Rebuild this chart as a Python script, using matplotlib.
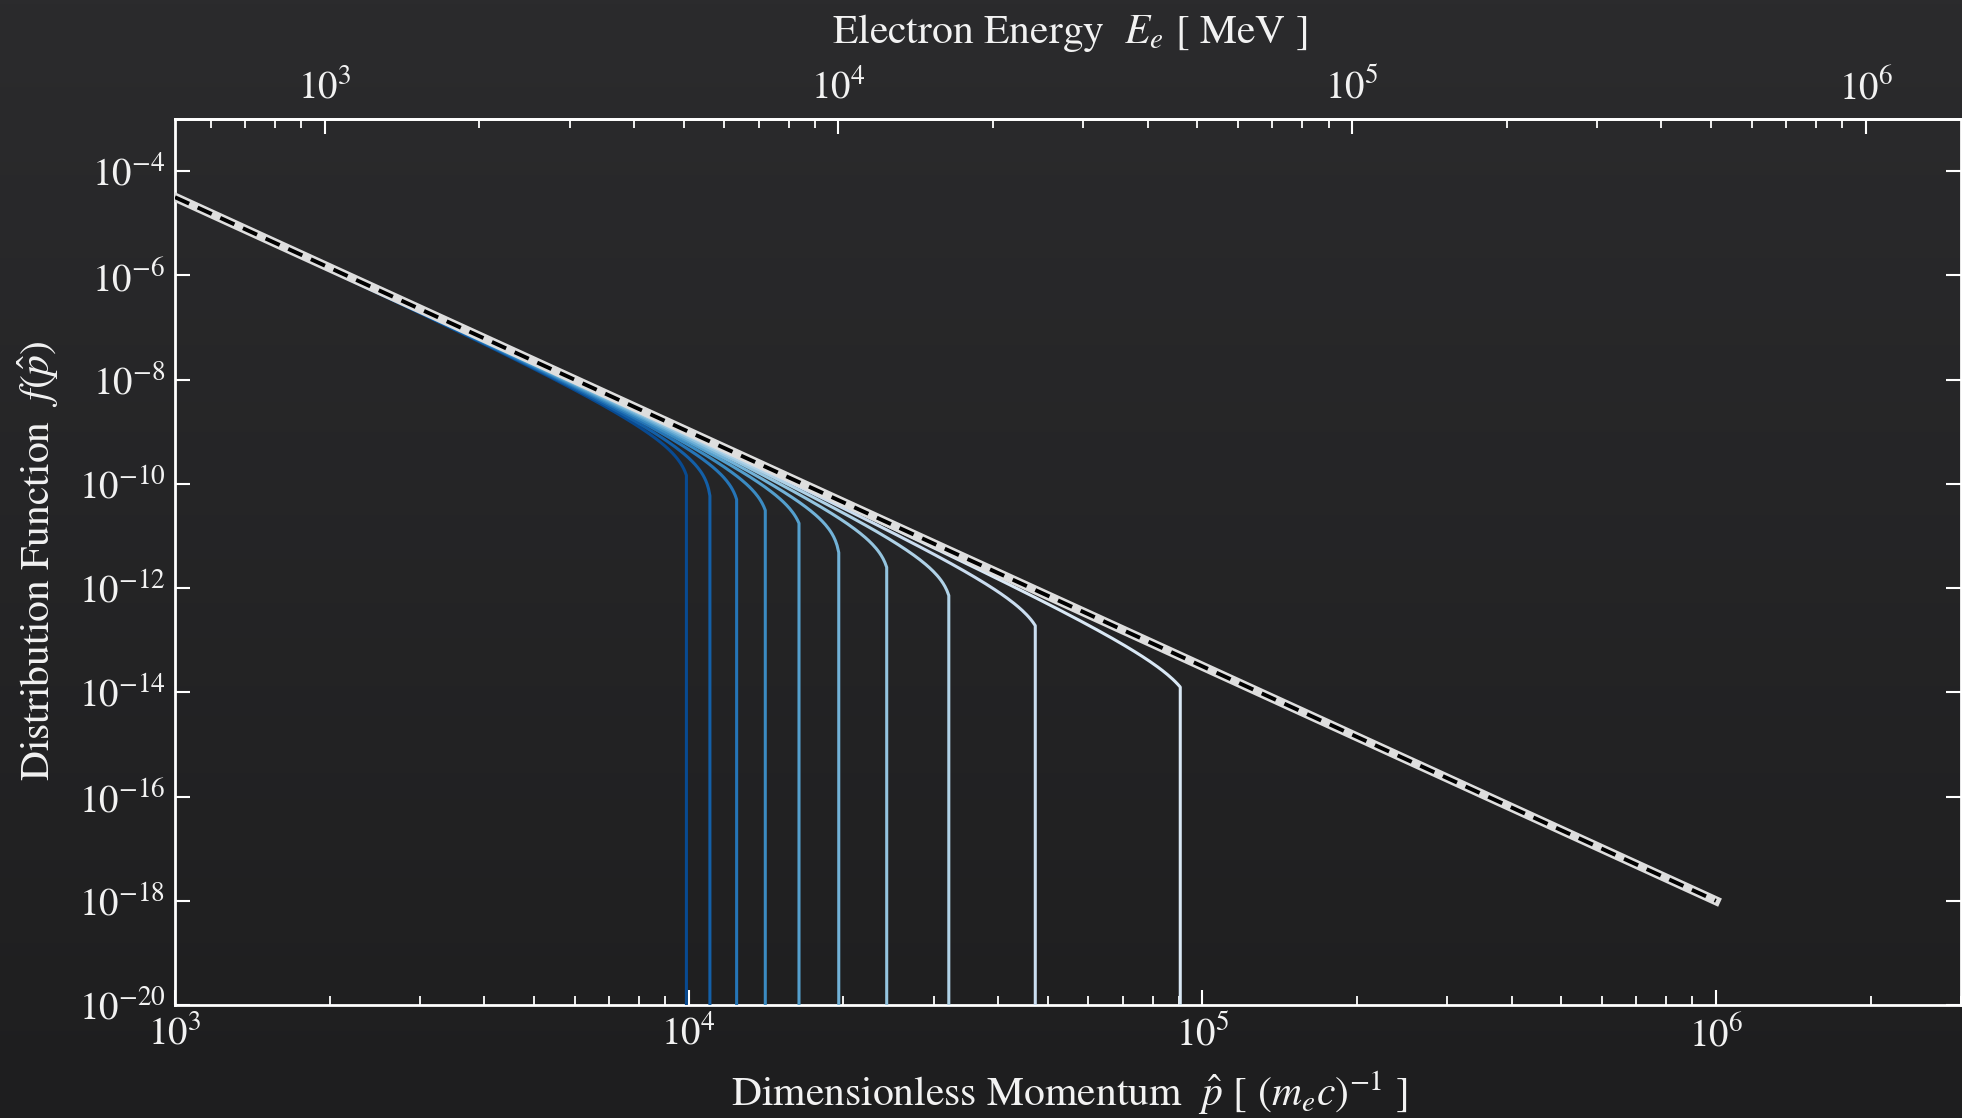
import numpy as np
import matplotlib
matplotlib.use("Agg")
import matplotlib.pyplot as plt
from matplotlib.colors import LinearSegmentedColormap
from matplotlib.ticker import NullLocator, FixedLocator, LogLocator, LogFormatterSciNotation

plt.rcParams['font.family'] = ['STIXGeneral', 'DejaVu Serif']
plt.rcParams['mathtext.fontset'] = 'stix'

# reference power law (dashed), two end points
pl_p = [1e3, 1e6]
pl_f = [3.16e-5, 1.0e-18]
pl_index = 4.5

# knee of each cooled spectrum: last point before the vertical drop
cut_p = [9.9e3, 1.10e4, 1.24e4, 1.41e4, 1.64e4, 1.96e4, 2.43e4, 3.21e4, 4.73e4, 9.06e4]
cut_f = [1.45e-10, 5.9e-11, 5.0e-11, 3.1e-11, 1.75e-11, 4.8e-12, 2.5e-12, 7.2e-13, 1.9e-13, 1.26e-14]
bend = 0.5          # exponent of the (1 - p/p_max) roll-off

me_c2 = 0.511       # MeV, converts p-hat to E_e

y_ticks = [1e-20, 1e-18, 1e-16, 1e-14, 1e-12, 1e-10, 1e-8, 1e-6, 1e-4]
e_ticks = [1e3, 1e4, 1e5, 1e6]

W, H = 1962, 1118
fig = plt.figure(figsize=(W / 100, H / 100), dpi=100)

# dark backdrop, a little lighter at the top
bg = fig.add_axes([0, 0, 1, 1], zorder=-10)
grad = np.linspace(0, 1, 256).reshape(-1, 1)
bg_cmap = LinearSegmentedColormap.from_list('bg', ['#2b2b2d', '#1e1e1f'])
bg.imshow(grad, aspect='auto', cmap=bg_cmap, extent=[0, 1, 0, 1])
bg.axis('off')

ax = fig.add_axes([175 / W, 1 - 1005 / H, (1961 - 175) / W, (1005 - 119) / H])
ax.set_facecolor('none')
ax.set_xscale('log')
ax.set_yscale('log')


def power_law(p):
    return pl_f[0] * (np.asarray(p) / pl_p[0]) ** (-pl_index)


colors = plt.cm.Blues(np.linspace(0.9, 0.15, len(cut_p)))
for pk, fk, c in zip(cut_p, cut_f, colors):
    depth = np.log10(power_law(pk) / fk)
    pmax = pk / (1 - 10 ** (-depth / bend))
    p = np.logspace(3, np.log10(pk), 400)
    f = power_law(p) * (1 - p / pmax) ** bend
    p = np.append(p, pk)
    f = np.append(f, 1e-23)
    ax.plot(p, f, color=c, lw=2.2, zorder=3)

ax.plot(pl_p, pl_f, color='#dedede', lw=6.5, solid_capstyle='projecting', zorder=5)
ax.plot(pl_p, pl_f, color='black', lw=2.8, ls=(0, (4, 2.4)), zorder=6)

ax.set_xlim(1e3, 3e6)
ax.set_ylim(1e-20, 1e-3)
ax.yaxis.set_major_locator(FixedLocator(y_ticks))
ax.yaxis.set_major_formatter(LogFormatterSciNotation())
ax.yaxis.set_minor_locator(NullLocator())

txt = '#f2f2f2'
for s in ax.spines.values():
    s.set_color('white')
    s.set_linewidth(2)
ax.tick_params(which='both', direction='in', color='white', labelcolor=txt,
               top=False, right=True, labelsize=28)
ax.tick_params(which='major', length=11, width=1.5, pad=7)
ax.tick_params(which='minor', length=6.5, width=1.3)

sec = ax.secondary_xaxis('top', functions=(lambda p: p * me_c2, lambda e: e / me_c2))
sec.xaxis.set_major_locator(FixedLocator(e_ticks))
sec.xaxis.set_major_formatter(LogFormatterSciNotation())
sec.xaxis.set_minor_locator(LogLocator(base=10, subs=np.arange(2, 10)))
sec.spines['top'].set_color('white')
sec.spines['top'].set_linewidth(2)
sec.tick_params(which='both', direction='in', color='white', labelcolor=txt, labelsize=28)
sec.tick_params(which='major', length=11, width=1.5, pad=9)
sec.tick_params(which='minor', length=6.5, width=1.3)

ax.set_xlabel(r'Dimensionless Momentum  $\hat{p}$ [ $(m_e c)^{-1}$ ]', color=txt, fontsize=30)
ax.xaxis.set_label_coords(0.501, -0.073)
ax.set_ylabel(r'Distribution Function  $f(\hat{p})$', color=txt, fontsize=30)
ax.yaxis.set_label_coords(-0.064, 0.502)
sec.set_xlabel(r'Electron Energy  $E_e$ [ MeV ]', color=txt, fontsize=30)
sec.xaxis.set_label_coords(0.501, 1.086, transform=ax.transAxes)

fig.savefig('out.png', dpi=100)
